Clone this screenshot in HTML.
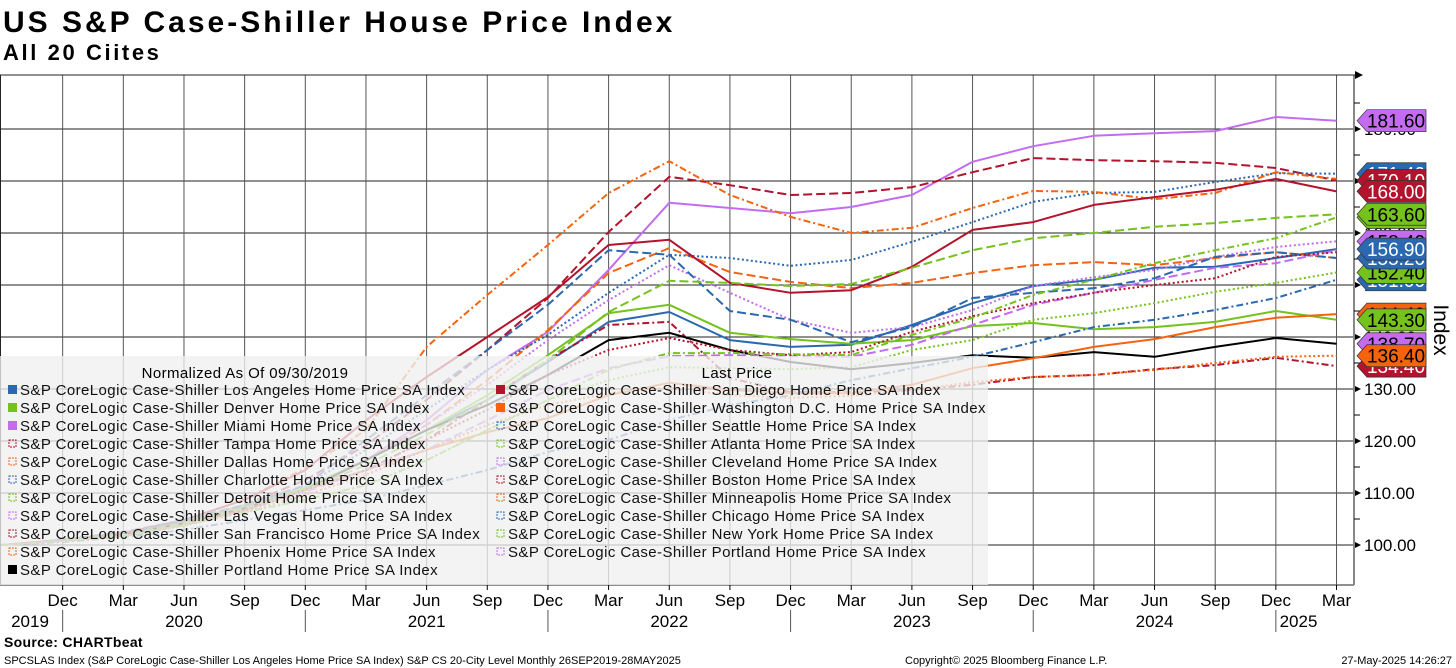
<!DOCTYPE html>
<html><head><meta charset="utf-8">
<style>
html,body{margin:0;padding:0;background:#fff;}
body{width:1456px;height:668px;overflow:hidden;position:relative;font-family:"Liberation Sans",sans-serif;}
svg{position:absolute;left:0;top:0;}
</style></head>
<body>
<svg id="chart" width="1456" height="668" viewBox="0 0 1456 668" xmlns="http://www.w3.org/2000/svg" font-family="Liberation Sans, sans-serif">
  <text x="3" y="32" font-size="30" font-weight="bold" letter-spacing="3">US S&amp;P Case-Shiller House Price Index</text>
  <text x="3" y="60" font-size="22" font-weight="bold" letter-spacing="2.6">All 20 Ciites</text>
  <g id="grid"></g>
  <g id="lines"></g>
  <g id="legend"></g>
  <g id="yaxis"></g>
  <g id="xaxis"></g>
  <text transform="translate(1434,330) rotate(90)" font-size="21" text-anchor="middle">Index</text>
  <text x="4" y="647" font-size="14" font-weight="bold" letter-spacing="0.3">Source: CHARTbeat</text>
  <text x="4" y="664" font-size="11">SPCSLAS Index (S&amp;P CoreLogic Case-Shiller Los Angeles Home Price SA Index) S&amp;P CS 20-City Level  Monthly 26SEP2019-28MAY2025</text>
  <text x="905" y="664" font-size="11">Copyright© 2025 Bloomberg Finance L.P.</text>
  <text x="1452" y="664" font-size="11" text-anchor="end">27-May-2025 14:26:27</text>
</svg>
<script>
// quarterly observations, index from Sep 2019 (month 0) to Mar 2025 (month 66)
const months = [0,3,6,9,12,15,18,21,24,27,30,33,36,39,42,45,48,51,54,57,60,63,66];
const LA = [100,100.8,101.9,104.4,107.7,111,116.3,122.1,127.9,135.2,142.9,144.8,139.4,138.1,138.5,142.3,146.5,149.8,151,153.3,153.5,155.2,156.9];
const Denver = [100,100.8,101.9,104.4,107.7,111,116.3,122.1,128.8,136.5,144.6,146.2,140.8,139.6,138.7,139.4,142.1,142.7,141.5,141.9,142.9,145,143.3];
const Miami = [100,100.8,101.9,103.8,106.7,110.6,116.3,124,133.7,141,152.9,165.8,164.8,163.8,165,167.3,173.7,176.7,178.7,179.2,179.6,182.3,181.6];
const Tampa = [100,101,102.5,104.8,107.7,112.5,119.2,127.9,137.5,147.5,160.2,170.8,169.2,167.3,167.7,168.8,171.7,174.4,174,173.8,173.5,172.5,170.1];
const Dallas = [100,100.8,101.9,104.4,107.3,110.6,116.3,123.1,131.7,141.3,152.3,157.1,152.5,150.6,149.4,150.4,152.3,153.8,154.4,153.8,155.2,156.3,155.2];
const Charlotte = [100,100.8,102.1,104.4,107.1,111.5,118.3,126,133.7,140.4,148.5,155.8,155.2,153.7,154.8,158.3,162.1,166,167.7,167.9,169.8,171.5,171.4];
const Detroit = [100,100.8,101.7,103.8,106.3,108.7,111.5,116.3,122.1,127.9,131.7,134.2,134,133.8,134.2,137.5,139.4,143.3,144.6,146.5,148.7,150.4,152.4];
const LasVegas = [100,100.8,101.9,104.2,107.1,110.6,116.3,123.1,130.8,139.4,147.1,153.8,148.5,143.3,140.8,141.9,145.2,149.8,151.5,152.9,155.4,157.3,158.4];
const SanFrancisco = [100,100.8,101.9,104.2,107.1,110.6,114.4,120.2,127.9,135.6,142.3,142.9,132.1,129.4,129.4,129.8,130.8,132.3,132.7,133.8,134.6,136,134.4];
const Phoenix = [100,101,102.3,104.8,108.7,114.8,122.1,138.1,148.1,157.7,167.7,173.8,167.3,163.1,160,161,164.8,168.1,167.9,166.5,167.7,171.7,170.4];
const Portland = [100,100.8,101.9,104.2,107.1,110.6,116.3,122.1,126.9,132.7,139.4,140.8,137.5,135.2,133.8,135,136.5,136,137.1,136.2,138.1,139.8,138.7];
const SanDiego = [100,101,102.3,104.8,108.7,114.4,124,132.3,140,147.7,157.7,158.7,150.4,148.5,149,153.5,160.6,162.1,165.4,166.9,168.3,170.4,168];
const WashingtonDC = [100,100.8,101.7,103.8,106.7,110.6,114.4,118.3,121.7,124.4,128.8,131.2,129.8,129.2,129.2,130.8,134,135.9,138.1,139.6,141.9,143.7,144.4];
const Seattle = [100,101,102.3,104.8,107.7,111.5,120.2,128.8,137.5,146.2,156.7,155.8,145,143.3,139,141.9,147.5,148.5,149.4,151.3,155.4,156.3,155.2];
const Atlanta = [100,100.8,101.9,104.2,107.1,110.6,115.4,121.2,127.9,135.6,144.8,150.8,150.4,149.8,150.2,153.3,156.7,159,160,161.2,161.9,162.9,163.6];
const Cleveland = [100,100.8,101.7,103.8,106.7,110.2,114.4,118.3,124,129.8,134,136.3,136.5,136.3,136.2,138.5,142.3,146.2,148.5,151,153.3,154.2,156.7];
const Boston = [100,100.8,101.7,103.8,106.7,110.6,114.4,120.2,126,132.7,137.5,139.8,137.5,136.5,137.1,141,144,146.5,148.5,150,151.3,155.4,156.3];
const Minneapolis = [100,100.8,101.7,103.7,106.3,109.6,113.5,118.3,123.1,126.9,129.2,130.2,128.8,128.3,128.7,129.8,131.3,132.3,132.7,133.7,135,136.2,136.4];
const Chicago = [100,100.6,101.5,102.9,104.8,106.7,108.7,111.5,114.4,117.9,120.2,124,126.9,128.8,131.7,134,136.2,139,141.9,143.3,145.2,147.5,151];
const NewYork = [100,100.8,101.7,103.8,106.3,108.7,111.5,116.3,122.1,127.9,133.7,136.9,136.9,136.7,136.5,140.4,143.7,148.1,151,154.2,156.7,159,163];
const yTicks = [100,110,120,130,140,150,160,170,180];
const tickLabels = ["100.00","110.00","120.00","130.00","140.00","150.00","160.00","170.00","180.00"];
const monthNames = ["Dec","Mar","Jun","Sep"];
const yearLabels = ["2019","2020","2021","2022","2023","2024","2025"];

const C={blue:"#2b68b0",green:"#74c21b",purple:"#c36cf0",red:"#b3132c",orange:"#f5630f",black:"#000"};
const D={solid:"",dash:"9,4",dot:"2,2.5",dashdot:"7,3,2,3"};
const series=[
 {n:"Los Angeles",v:LA,c:C.blue,s:"solid",col:0},
 {n:"Denver",v:Denver,c:C.green,s:"solid",col:0},
 {n:"Miami",v:Miami,c:C.purple,s:"solid",col:0},
 {n:"Tampa",v:Tampa,c:C.red,s:"dash",col:0},
 {n:"Dallas",v:Dallas,c:C.orange,s:"dash",col:0},
 {n:"Charlotte",v:Charlotte,c:C.blue,s:"dot",col:0},
 {n:"Detroit",v:Detroit,c:C.green,s:"dot",col:0},
 {n:"Las Vegas",v:LasVegas,c:C.purple,s:"dot",col:0},
 {n:"San Francisco",v:SanFrancisco,c:C.red,s:"dashdot",col:0},
 {n:"Phoenix",v:Phoenix,c:C.orange,s:"dashdot",col:0},
 {n:"Portland",v:Portland,c:C.black,s:"solid",col:0},
 {n:"San Diego",v:SanDiego,c:C.red,s:"solid",col:1},
 {n:"Washington D.C.",v:WashingtonDC,c:C.orange,s:"solid",col:1},
 {n:"Seattle",v:Seattle,c:C.blue,s:"dash",col:1},
 {n:"Atlanta",v:Atlanta,c:C.green,s:"dash",col:1},
 {n:"Cleveland",v:Cleveland,c:C.purple,s:"dash",col:1},
 {n:"Boston",v:Boston,c:C.red,s:"dot",col:1},
 {n:"Minneapolis",v:Minneapolis,c:C.orange,s:"dot",col:1},
 {n:"Chicago",v:Chicago,c:C.blue,s:"dashdot",col:1},
 {n:"New York",v:NewYork,c:C.green,s:"dashdot",col:1},
 {n:"Portland",v:null,c:C.purple,s:"dot",col:1}
];
const xS=m=>2+m*20.22;
const yS=v=>545-(v-100)*5.2;
const NS="http://www.w3.org/2000/svg";
function mk(t,a,p){const e=document.createElementNS(NS,t);for(const k in a)e.setAttribute(k,a[k]);p.appendChild(e);return e;}
const grid=document.getElementById('grid');
const PR=1354;
yTicks.forEach(v=>{const l=mk('line',{x1:0,x2:PR,y1:yS(v),y2:yS(v),stroke:"#222","stroke-width":1},grid);

});
mk('line',{x1:0,x2:PR,y1:585,y2:585,stroke:"#222","stroke-width":1},grid);
for(let m=3;m<=66;m+=3){const l=mk('line',{x1:xS(m),x2:xS(m),y1:75,y2:585,stroke:"#555","stroke-width":1},grid);

}
mk('line',{x1:0.5,x2:0.5,y1:75,y2:585,stroke:"#222"},grid);
const lines=document.getElementById('lines');
series.forEach(s=>{if(!s.v)return;
 const pts=s.v.map((v,i)=>xS(months[i]).toFixed(1)+","+yS(v).toFixed(1)).join(" ");
 const p=mk('polyline',{points:pts,fill:"none",stroke:s.c,"stroke-width":2,"stroke-dasharray":D[s.s],"stroke-linejoin":"round"},lines);
 
 
});
const lg=document.getElementById('legend');
mk('rect',{x:0,y:356,width:988,height:229,fill:"rgba(240,240,240,0.78)"},lg);
const h1=mk('text',{x:245,y:378,"font-size":15,"text-anchor":"middle","letter-spacing":"0.4"},lg);h1.textContent="Normalized As Of 09/30/2019";


const h2=mk('text',{x:737,y:378,"font-size":15,"text-anchor":"middle","letter-spacing":"0.4"},lg);h2.textContent="Last Price";


let r0=0,r1=0;
series.forEach(s=>{const row=s.col?r1++:r0++;const x=s.col?496:8;const y=390+row*18;
 const g=mk('g',{},lg);
 
 
 if(s.s==="solid")mk('rect',{x:x,y:y-5,width:9,height:9,fill:s.c},g);
 else mk('rect',{x:x+1,y:y-4,width:7,height:7,fill:"none",stroke:s.c,"stroke-width":1,"stroke-dasharray":"2,1"},g);
 const t=mk('text',{x:x+12,y:y+5,"font-size":15,fill:"#111","letter-spacing":"0.42"},g);
 t.textContent="S&P CoreLogic Case-Shiller "+s.n+" Home Price SA Index";
});
const ya=document.getElementById('yaxis');
mk('line',{x1:PR,x2:PR,y1:75,y2:585,stroke:"#888","stroke-width":2},ya);
mk('path',{d:"M1355,71 L1363,75 L1355,79 Z",fill:"#000"},ya);
mk('line',{x1:0,x2:1356,y1:75,y2:75,stroke:"#222"},ya);
yTicks.forEach(v=>{mk('line',{x1:PR,x2:PR+6,y1:yS(v)-26,y2:yS(v)-26,stroke:"#000"},ya);});
tickLabels.forEach((lab,i)=>{const v=yTicks[i];const y=yS(v);
 mk('path',{d:`M1355,${y-3} L1361,${y} L1355,${y+3} Z`,fill:"#000"},ya);
 const t=mk('text',{x:1364,y:y+6,"font-size":17},ya);t.textContent=lab;
 
 
});
function tag(val,color,txt,name){const y=yS(val);
 const g=mk('g',{},ya);
 
 
 mk('path',{d:`M1357,${y} L1367,${y-11} L1426,${y-11} L1426,${y+11} L1367,${y+11} Z`,fill:color,stroke:"#333","stroke-width":0.7},g);
 const t=mk('text',{x:1396,y:y+7,"font-size":19,"text-anchor":"middle",fill:txt},g);
 t.textContent=val.toFixed(2);}
const draw=[
 [Charlotte,C.blue,"#fff"],[Tampa,C.red,"#fff"],[SanDiego,C.red,"#fff"],[NewYork,C.green,"#000"],[Atlanta,C.green,"#000"],
 [LasVegas,C.purple,"#000"],[Chicago,C.blue,"#fff"],[Detroit,C.green,"#000"],[Seattle,C.blue,"#fff"],[LA,C.blue,"#fff"],
 [WashingtonDC,C.orange,"#000"],[Denver,C.green,"#000"],[SanFrancisco,C.red,"#fff"],[Portland,C.purple,"#000"],[Minneapolis,C.orange,"#000"],[Miami,C.purple,"#000"]
];
draw.forEach(d=>tag(d[0][d[0].length-1],d[1],d[2],'last-price-tag'));
const xa=document.getElementById('xaxis');
for(let m=3;m<=66;m+=3){const t=mk('text',{x:xS(m),y:606,"font-size":17,"text-anchor":"middle"},xa);
 t.textContent=monthNames[((m/3)-1)%4];
 
 
 mk('line',{x1:xS(m),x2:xS(m),y1:585,y2:590,stroke:"#000"},xa);
 if(((m/3)-1)%4===0)mk('line',{x1:xS(m),x2:xS(m),y1:610,y2:632,stroke:"#555"},xa);}
const yx=[30,xS(9),xS(21),xS(33),xS(45),xS(57),xS(66)-38];
yearLabels.forEach((y,i)=>{const t=mk('text',{x:yx[i],y:627,"font-size":17,"text-anchor":"middle"},xa);t.textContent=y;
 
 });
</script>
</body></html>
